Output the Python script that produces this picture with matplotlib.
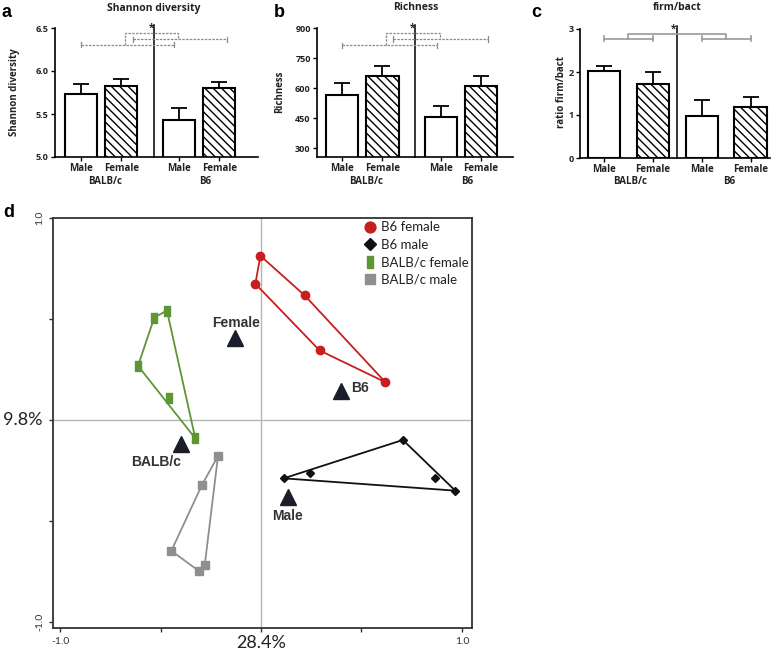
import numpy as np
import matplotlib.pyplot as plt
from matplotlib.transforms import blended_transform_factory as blend

W, H = 778, 654

# ---- data ----
sex_labels = ["Male", "Female", "Male", "Female"]
strain_labels = ["BALB/c", "B6"]

shannon_mean = [5.73, 5.82, 5.43, 5.80]
shannon_top = [5.85, 5.91, 5.57, 5.87]
rich_mean = [565, 660, 456, 612]
rich_top = [624, 712, 510, 662]
ratio_mean = [2.02, 1.72, 0.98, 1.18]
ratio_top = [2.15, 1.99, 1.36, 1.41]

# comparison brackets (x0, x1, y) and the bracket joining them
shannon_br = [(0, 2.33, 6.305), (1.28, 3.64, 6.37)]
shannon_join = (1.09, 2.41, 6.44)
rich_br = [(0, 2.35, 813), (1.27, 3.63, 845)]
rich_join = (1.09, 2.43, 875)
ratio_br = [(0, 1, 2.77), (2, 3, 2.77)]
ratio_join = (0.5, 2.5, 2.88)

# PCoA coordinates
b6f_x = [-0.003, -0.028, 0.217, 0.292, 0.619]
b6f_y = [0.813, 0.674, 0.617, 0.344, 0.187]
b6f_hull = [0, 2, 4, 3, 1, 0]
b6m_x = [0.706, 0.113, 0.245, 0.864, 0.967]
b6m_y = [-0.099, -0.289, -0.264, -0.289, -0.350]
b6m_hull = [1, 0, 4, 1]
bcf_x = [-0.468, -0.531, -0.612, -0.456, -0.327]
bcf_y = [0.542, 0.507, 0.268, 0.107, -0.091]
bcf_hull = [1, 0, 4, 2, 1]
bcm_x = [-0.214, -0.294, -0.446, -0.310, -0.280]
bcm_y = [-0.179, -0.322, -0.648, -0.747, -0.719]
bcm_hull = [0, 4, 3, 2, 1, 0]

cent_names = ["Female", "B6", "BALB/c", "Male"]
cent_x = [-0.131, 0.398, -0.396, 0.133]
cent_y = [0.405, 0.145, -0.121, -0.380]
cent_off = [(1, 11), (14, 2), (-18, -13), (0, -14)]

plt.rcParams['hatch.linewidth'] = 1.0
fig = plt.figure(figsize=(W / 100, H / 100), dpi=100)


def box(l, r, t, b):
    return [l / W, 1 - b / H, (r - l) / W, (b - t) / H]


bold = dict(family="Open Sans", fontweight="bold", color="#222222")


def bar_panel(rect, pos, width, xlim, ylim, yticks, ytl, mean, top, vline,
              br, join, dashed, title, ylab, ylab_x, letter, letter_x, grp_x):
    ax = fig.add_axes(rect)
    hatches = ["", "\\\\\\\\", "", "\\\\\\\\"]
    for p, m, h in zip(pos, mean, hatches):
        ax.bar(p, m, width, color="white", edgecolor="black", lw=1.5, hatch=h, zorder=2)
    err = np.array(top) - np.array(mean)
    ax.errorbar(pos, mean, yerr=[np.zeros(4), err], fmt="none", ecolor="black",
                elinewidth=1.3, capsize=6, capthick=1.3, zorder=1)
    ax.set_xlim(*xlim)
    ax.set_ylim(*ylim)
    ax.axvline(vline, ymin=0, ymax=1.02, color="black", lw=1.1, clip_on=False)
    for s in ["top", "right"]:
        ax.spines[s].set_visible(False)
    for s in ["left", "bottom"]:
        ax.spines[s].set_linewidth(1.2)
    ax.set_yticks(yticks)
    ax.set_yticklabels(ytl, fontsize=6.5, **bold)
    ax.set_xticks(pos)
    ax.set_xticklabels(sex_labels, fontsize=7, **bold)
    ax.tick_params(length=3, width=1, pad=1.5)
    # brackets
    span = ylim[1] - ylim[0]
    cap = span * 0.02
    ls = (0, (2, 1)) if dashed else "-"
    col = "#8a8a8a" if dashed else "#9a9a9a"
    lw = 0.9 if dashed else 1.2
    for x0, x1, y in br:
        ax.plot([x0, x1], [y, y], ls=ls, color=col, lw=lw)
        ax.plot([x0, x0], [y - cap, y + cap], color=col, lw=lw)
        ax.plot([x1, x1], [y - cap, y + cap], color=col, lw=lw)
    jx0, jx1, jy = join
    ax.plot([jx0, jx0, jx1, jx1], [br[0][2], jy, jy, br[1][2]], ls=ls, color=col, lw=lw)
    ax.text(vline - 0.08, ylim[1] - span * 0.005, "*", ha="center", va="center", fontsize=7, **bold)
    tr = blend(ax.transData, fig.transFigure)
    ax.text(vline, 1 - 8 / H, title, transform=tr, ha="center", va="center", fontsize=7.5, **bold)
    for gx, g in zip(grp_x, strain_labels):
        ax.text(gx, 1 - 182 / H, g, transform=tr, ha="center", va="center", fontsize=7, **bold)
    fig.text(ylab_x / W, 1 - 92 / H, ylab, rotation=90, ha="center", va="center", fontsize=7, **bold)
    fig.text(letter_x / W, 1 - 17 / H, letter, fontsize=13, family="Liberation Sans",
             fontweight="bold", va="baseline")
    return ax


pos_ab = [0, 1, 2.45, 3.45]
bar_panel(box(55, 258, 28, 157), pos_ab, 0.8, (-0.66, 4.42), (5.0, 6.5),
          [5.0, 5.5, 6.0, 6.5], ["5.0", "5.5", "6.0", "6.5"],
          shannon_mean, shannon_top, 1.82, shannon_br, shannon_join, True,
          "Shannon diversity", "Shannon diversity", 15, "a", 2, [0.6, 3.1])
bar_panel(box(317, 513, 28, 157), pos_ab, 0.8, (-0.63, 4.25), (255, 900),
          [300, 450, 600, 750, 900], ["300", "450", "600", "750", "900"],
          rich_mean, rich_top, 1.82, rich_br, rich_join, True,
          "Richness", "Richness", 280, "b", 274, [0.6, 3.1])
bar_panel(box(580, 770, 29, 158), [0, 1, 2, 3], 0.67, (-0.49, 3.39), (0, 3),
          [0, 1, 2, 3], ["0", "1", "2", "3"],
          ratio_mean, ratio_top, 1.49, ratio_br, ratio_join, False,
          "firm/bact", "ratio firm/bact", 562, "c", 531, [0.53, 2.55])

# ---- panel d ----
ax = fig.add_axes(box(53, 472, 218, 628))
ax.set_xlim(-1.035, 1.05)
ax.set_ylim(-1.03, 1.0)
ax.axvline(0, color="#b5b5b5", lw=1, zorder=0)
ax.axhline(0, color="#b5b5b5", lw=1, zorder=0)

red, green, grey, blk = "#c81e1e", "#5e9636", "#8f8f8f", "#111111"
rect_marker = [(-0.55, -1), (0.55, -1), (0.55, 1), (-0.55, 1), (-0.55, -1)]
series = [
    (b6f_x, b6f_y, b6f_hull, red, "o", 6, "B6 female"),
    (b6m_x, b6m_y, b6m_hull, blk, "D", 4.5, "B6 male"),
    (bcf_x, bcf_y, bcf_hull, green, rect_marker, 7, "BALB/c female"),
    (bcm_x, bcm_y, bcm_hull, grey, "s", 5.5, "BALB/c male"),
]
handles = []
for xs, ys, hull, c, m, ms, lab in series:
    xs, ys = np.array(xs), np.array(ys)
    ax.plot(xs[hull], ys[hull], color=c, lw=1.3, zorder=2)
    h, = ax.plot(xs, ys, ls="none", marker=m, ms=ms, color=c, mec=c, zorder=3, label=lab)
    handles.append(h)

ax.plot(cent_x, cent_y, ls="none", marker="^", ms=12, color="#1b1e2a", zorder=4)
for n, x, y, (ox, oy) in zip(cent_names, cent_x, cent_y, cent_off):
    ax.annotate(n, (x, y), xytext=(ox, oy), textcoords="offset points",
                ha="center", va="center", fontsize=10, family="Liberation Sans",
                fontweight="bold", color="#333333")

leg = ax.legend(handles=handles, loc="upper right", bbox_to_anchor=(1.0, 1.0),
                frameon=False, markerscale=1.3, handlelength=0.6, handletextpad=0.5,
                labelspacing=0.42, borderaxespad=0.0, borderpad=0.25,
                prop=dict(family="Lato", size=9.5))
for t in leg.get_texts():
    t.set_color("#222222")

for s in ax.spines.values():
    s.set_color("#333333")
    s.set_linewidth(1.3)
ticks = [-1.0, -0.5, 0.0, 0.5, 1.0]
tl = ["-1.0", "", "", "", "1.0"]
ax.set_xticks(ticks)
ax.set_xticklabels(tl, fontsize=7.5, family="Lato", color="#333333")
ax.set_yticks(ticks)
ax.set_yticklabels(tl, fontsize=7.5, family="Lato", color="#333333", rotation=90, va="center")
ax.tick_params(length=3, width=1, colors="#333333")
ax.text(-0.024, 0, "9.8%", transform=blend(ax.transAxes, ax.transData), ha="right",
        va="center", fontsize=13, family="Lato", color="#222222")
ax.text(0, 1 - 643 / H, "28.4%", transform=blend(ax.transData, fig.transFigure),
        ha="center", va="center", fontsize=13, family="Lato", color="#222222")
fig.text(3 / W, 1 - 217 / H, "d", fontsize=13, family="Liberation Sans",
         fontweight="bold", va="baseline")

fig.savefig("out.png", dpi=100)
